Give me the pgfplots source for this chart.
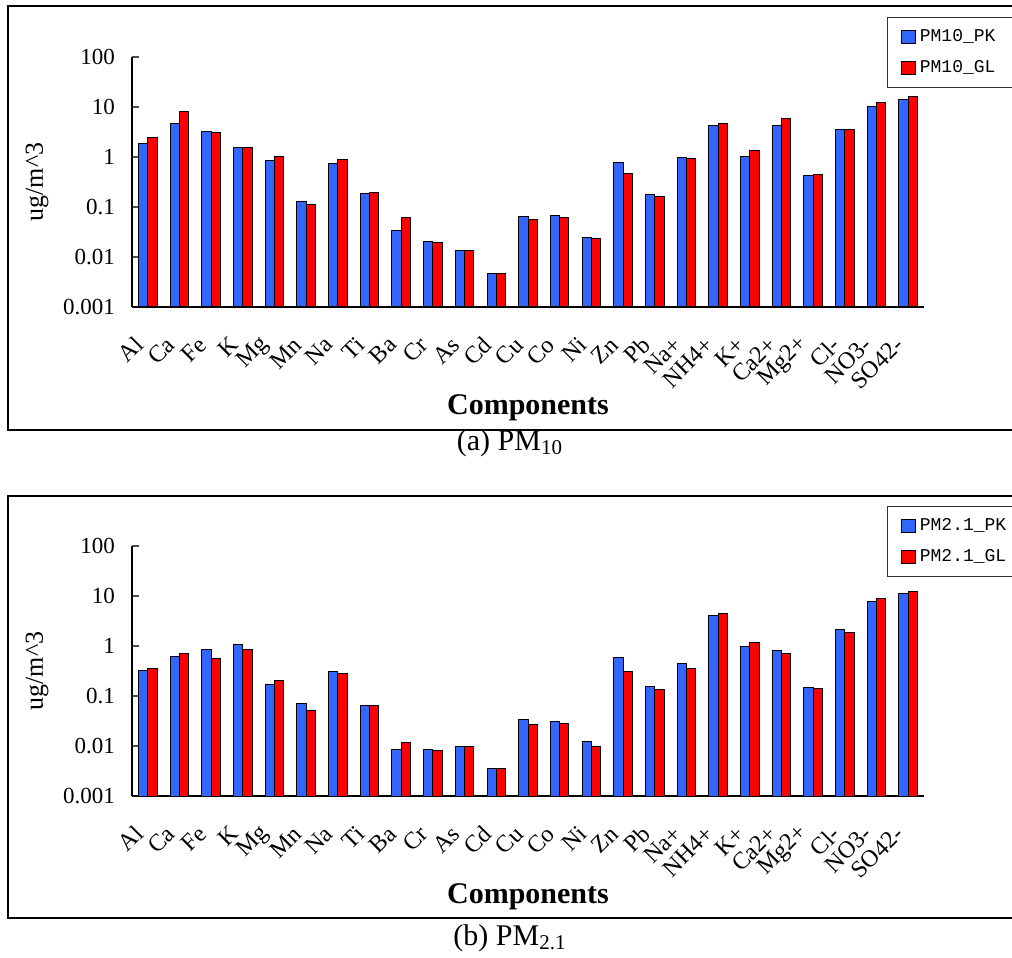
\documentclass[border=0pt]{standalone}
\usepackage{fontspec}
\setmainfont{Liberation Serif}
\newfontfamily\monofont{Liberation Mono}
\usepackage{pgfplots}
\usepackage{pgfplotstable}
\pgfplotsset{compat=1.18}
\definecolor{bblue}{HTML}{3366FF}
\definecolor{rred}{HTML}{FF0000}

\pgfplotstableread{
x pk gl
0 1.88 2.40
1 4.6 8.2
2 3.3 3.1
3 1.54 1.54
4 0.845 1.03
5 0.126 0.113
6 0.735 0.885
7 0.188 0.197
8 0.0336 0.061
9 0.0206 0.0197
10 0.0132 0.0138
11 0.00457 0.0047
12 0.064 0.0558
13 0.068 0.061
14 0.0251 0.0236
15 0.794 0.457
16 0.176 0.161
17 0.985 0.926
18 4.23 4.64
19 1.03 1.34
20 4.23 5.94
21 0.423 0.443
22 3.47 3.47
23 10.0 12.2
24 14.0 16.1
}\tenData

\pgfplotstableread{
x pk gl
0 0.331 0.347
1 0.603 0.703
2 0.858 0.575
3 1.05 0.858
4 0.171 0.200
5 0.0714 0.0517
6 0.311 0.284
7 0.066 0.066
8 0.00858 0.0115
9 0.00858 0.0082
10 0.00985 0.00985
11 0.00347 0.00347
12 0.0341 0.0267
13 0.0311 0.0284
14 0.0122 0.00985
15 0.584 0.311
16 0.156 0.134
17 0.45 0.347
18 4.1 4.5
19 0.955 1.17
20 0.807 0.703
21 0.149 0.142
22 2.15 1.90
23 7.59 8.98
24 11.1 12.4
}\twoData

\pgfplotsset{
 sqlegend/.style={legend image code/.code={\draw[##1] (0pt,-3.4pt) rectangle (6.8pt,3.4pt);}},
 pk/.style={fill=bblue, draw=black, line width=0.5pt, sqlegend},
 gl/.style={fill=rred, draw=black, line width=0.5pt, sqlegend},
}

\newcommand{\paneloptions}{
  scale only axis, width=396pt, height=125pt,
  ymode=log, ymin=0.001, ymax=100, log origin=infty,
  xmin=-0.5, xmax=24.5,
  axis x line*=bottom, axis y line*=left,
  axis line style={line width=0.6pt, black},
  ybar=0pt, bar width=4.65pt,
  xtick={0,...,24},
  xticklabels={Al,Ca,Fe,K,Mg,Mn,Na,Ti,Ba,Cr,As,Cd,Cu,Co,Ni,Zn,Pb,Na+,NH4+,K+,Ca2+,Mg2+,Cl-,NO3-,SO42-},
  extra x ticks={-0.5,0.5,...,24.5},
  extra x tick labels={},
  extra x tick style={major tick length=3pt, tick style={black!60, line width=0.6pt}},
  ytick={0.001,0.01,0.1,1,10,100},
  yticklabels={0.001,0.01,0.1,1,10,100},
  yminorticks=false, xminorticks=false,
  major tick length=3.5pt, tick align=inside,
  /pgf/number format/assume math mode=true,
}

\begin{document}
\begin{tikzpicture}
\useasboundingbox (0pt,0pt) rectangle (506pt,479pt);
\draw[line width=0.8pt] (4pt,264pt) rectangle (520pt,476pt);
\draw[line width=0.8pt] (4pt,20pt) rectangle (520pt,231pt);

\pgfplotsset{
  every axis/.append style={
  x tick style={draw=none},
  y tick style={black!70, line width=0.6pt},
  yticklabel style={font=\fontsize{11.5}{13}\selectfont, xshift=-5pt},
  xticklabel style={font=\fontsize{12}{14}\selectfont, xshift=-2pt, yshift=-14.5pt, rotate=45, anchor=east},
  ylabel style={at={(axis description cs:-0.12,0.5)}, anchor=center, font=\fontsize{13}{15}\selectfont},
  xlabel style={at={(axis description cs:0.5,-0.404)}, anchor=center, font=\fontsize{15}{18}\selectfont\bfseries},
  legend cell align=left,
  legend style={at={(axis description cs:0.953,1.16)}, anchor=north west,
    draw=black!80, line width=0.5pt, font=\monofont\fontsize{9}{11}\selectfont,
    inner xsep=7pt, inner ysep=4pt, row sep=4pt},
  }
}

\edef\tmp{\noexpand\begin{axis}[\unexpanded\expandafter{\paneloptions}, at={(66pt,325.5pt)}, anchor=south west, ylabel={ug/m\noexpand\textasciicircum 3}, xlabel={Components}]}
\tmp
\addplot[pk] table[x=x,y=pk] {\tenData};
\addplot[gl] table[x=x,y=gl] {\tenData};
\legend{PM10\_PK,PM10\_GL}
\end{axis}

\edef\tmp{\noexpand\begin{axis}[\unexpanded\expandafter{\paneloptions}, at={(66pt,81pt)}, anchor=south west, ylabel={ug/m\noexpand\textasciicircum 3}, xlabel={Components}]}
\tmp
\addplot[pk] table[x=x,y=pk] {\twoData};
\addplot[gl] table[x=x,y=gl] {\twoData};
\legend{PM2.1\_PK,PM2.1\_GL}
\end{axis}

\node[font=\fontsize{15}{17}\selectfont] at (255pt,257.5pt) {(a) PM\textsubscript{10}};
\node[font=\fontsize{15}{17}\selectfont] at (255pt,10pt) {(b) PM\textsubscript{2.1}};
\end{tikzpicture}
\end{document}
